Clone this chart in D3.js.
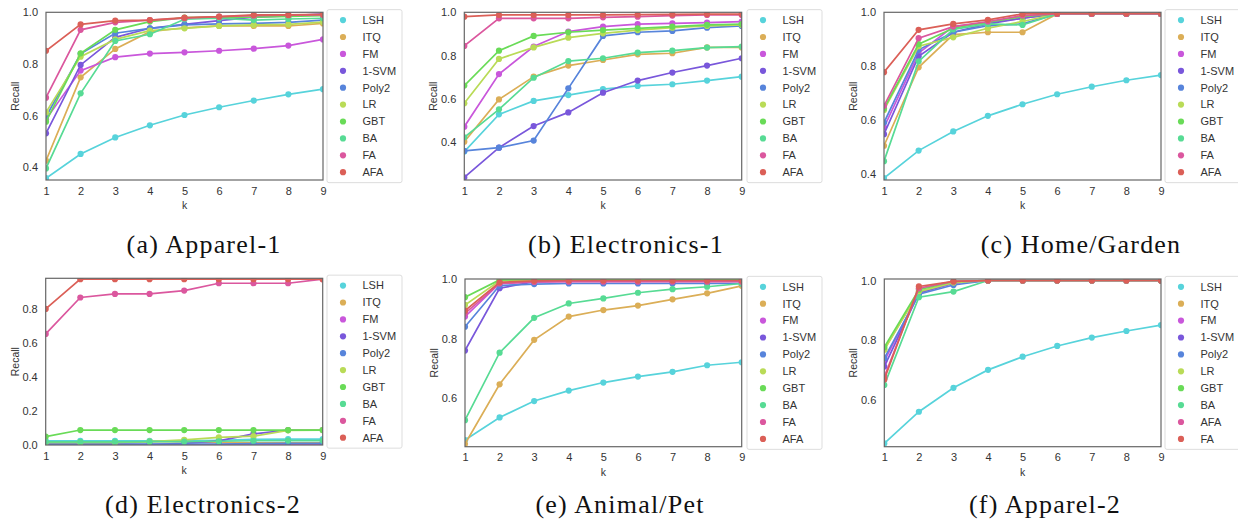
<!DOCTYPE html>
<html>
<head>
<meta charset="utf-8">
<script src="https://cdn.jsdelivr.net/npm/d3@7"></script>
<style>
	body { margin: 0; background: #fff; }
	text { font-family: "Liberation Sans", Arial, sans-serif; fill: #333; }
	.caption { font-family: "Liberation Serif", "Times New Roman", serif; fill: #111; }
</style>
</head>
<body>
<div id="chart-area"></div>
<script>
// recall@k for 10 methods on 6 datasets
const ks = [1, 2, 3, 4, 5, 6, 7, 8, 9]
const methods = ["LSH", "ITQ", "FM", "1-SVM", "Poly2", "LR", "GBT", "BA", "FA", "AFA"]
// panel (f) swaps the last two legend entries
const methodsF = ["LSH", "ITQ", "FM", "1-SVM", "Poly2", "LR", "GBT", "BA", "AFA", "FA"]
const palette = ["#57d3db", "#dbae57", "#c957db", "#7957db", "#5784db", "#b9db57", "#69db57", "#57db94", "#db579e", "#db5f57"]

// rows follow the legend order
const apparel1 = [
	[0.357, 0.451, 0.515, 0.562, 0.602, 0.632, 0.658, 0.682, 0.702],
	[0.425, 0.748, 0.858, 0.925, 0.940, 0.947, 0.947, 0.947, 0.957],
	[0.585, 0.774, 0.826, 0.840, 0.845, 0.851, 0.859, 0.871, 0.895],
	[0.531, 0.796, 0.903, 0.938, 0.953, 0.968, 0.981, 0.986, 0.994],
	[0.595, 0.839, 0.919, 0.938, 0.951, 0.955, 0.957, 0.961, 0.970],
	[0.612, 0.828, 0.895, 0.929, 0.938, 0.947, 0.951, 0.953, 0.962],
	[0.576, 0.841, 0.932, 0.964, 0.979, 0.981, 0.981, 0.984, 0.987],
	[0.395, 0.686, 0.889, 0.915, 0.973, 0.977, 0.970, 0.974, 0.977],
	[0.669, 0.932, 0.961, 0.970, 0.977, 0.983, 0.987, 0.989, 0.990],
	[0.851, 0.953, 0.968, 0.970, 0.979, 0.983, 0.990, 0.990, 0.992]
]
const electronics1 = [
	[0.357, 0.529, 0.591, 0.618, 0.645, 0.660, 0.668, 0.685, 0.703],
	[0.403, 0.598, 0.703, 0.754, 0.780, 0.806, 0.811, 0.838, 0.838],
	[0.472, 0.715, 0.842, 0.911, 0.934, 0.945, 0.949, 0.952, 0.957],
	[0.238, 0.375, 0.475, 0.538, 0.629, 0.685, 0.722, 0.754, 0.788],
	[0.360, 0.375, 0.408, 0.649, 0.891, 0.908, 0.914, 0.929, 0.937],
	[0.580, 0.785, 0.838, 0.883, 0.903, 0.918, 0.929, 0.937, 0.942],
	[0.662, 0.823, 0.891, 0.908, 0.918, 0.926, 0.934, 0.942, 0.946],
	[0.423, 0.552, 0.698, 0.775, 0.788, 0.814, 0.823, 0.837, 0.842],
	[0.845, 0.972, 0.972, 0.972, 0.977, 0.980, 0.985, 0.988, 0.988],
	[0.980, 0.988, 0.988, 0.988, 0.988, 0.989, 0.990, 0.992, 0.992]
]
const homeGarden = [
	[0.385, 0.487, 0.558, 0.616, 0.659, 0.696, 0.724, 0.748, 0.767],
	[0.505, 0.796, 0.917, 0.926, 0.926, 0.994, 0.994, 0.994, 0.994],
	[0.573, 0.849, 0.947, 0.962, 0.978, 0.994, 0.994, 0.994, 0.994],
	[0.548, 0.837, 0.926, 0.957, 0.978, 0.994, 0.994, 0.994, 0.994],
	[0.591, 0.861, 0.926, 0.950, 0.957, 0.994, 0.994, 0.994, 0.994],
	[0.638, 0.874, 0.907, 0.941, 0.966, 0.994, 0.994, 0.994, 0.994],
	[0.643, 0.882, 0.941, 0.963, 0.984, 0.994, 0.994, 0.994, 0.994],
	[0.448, 0.818, 0.937, 0.957, 0.953, 0.994, 0.994, 0.994, 0.994],
	[0.653, 0.904, 0.947, 0.966, 0.988, 0.994, 0.994, 0.994, 0.994],
	[0.778, 0.935, 0.957, 0.972, 0.994, 0.996, 0.996, 0.996, 0.996]
]
const electronics2 = [
	[0.024, 0.024, 0.024, 0.024, 0.024, 0.028, 0.033, 0.035, 0.035],
	[0.008, 0.008, 0.010, 0.020, 0.020, 0.015, 0.012, 0.012, 0.012],
	[0.002, 0.002, 0.002, 0.002, 0.002, 0.003, 0.005, 0.005, 0.005],
	[0.002, 0.002, 0.002, 0.002, 0.010, 0.024, 0.065, 0.088, 0.088],
	[0.006, 0.006, 0.006, 0.006, 0.006, 0.006, 0.008, 0.010, 0.010],
	[0.015, 0.015, 0.015, 0.020, 0.030, 0.045, 0.052, 0.086, 0.088],
	[0.049, 0.088, 0.088, 0.088, 0.088, 0.088, 0.088, 0.088, 0.088],
	[0.018, 0.018, 0.018, 0.020, 0.020, 0.022, 0.025, 0.026, 0.026],
	[0.653, 0.867, 0.888, 0.888, 0.908, 0.951, 0.951, 0.951, 0.975],
	[0.800, 0.975, 0.975, 0.975, 0.975, 0.975, 0.975, 0.975, 0.975]
]
const animalPet = [
	[0.460, 0.536, 0.591, 0.626, 0.653, 0.673, 0.689, 0.711, 0.721],
	[0.447, 0.647, 0.796, 0.874, 0.896, 0.911, 0.932, 0.952, 0.977],
	[0.874, 0.985, 0.990, 0.992, 0.992, 0.992, 0.992, 0.992, 0.992],
	[0.760, 0.969, 0.991, 0.994, 0.994, 0.994, 0.994, 0.994, 0.994],
	[0.840, 0.978, 0.983, 0.985, 0.985, 0.985, 0.985, 0.985, 0.985],
	[0.913, 0.994, 0.997, 0.997, 0.997, 0.997, 0.997, 0.997, 0.997],
	[0.939, 0.997, 1.000, 1.000, 1.000, 1.000, 1.000, 1.000, 1.000],
	[0.527, 0.753, 0.870, 0.918, 0.935, 0.954, 0.966, 0.974, 0.985],
	[0.885, 0.985, 0.990, 0.991, 0.991, 0.991, 0.991, 0.991, 0.991],
	[0.894, 0.989, 0.994, 0.995, 0.995, 0.995, 0.995, 0.995, 0.995]
]
const apparel2 = [
	[0.455, 0.561, 0.641, 0.701, 0.745, 0.781, 0.809, 0.831, 0.851],
	[0.770, 0.962, 0.995, 1.000, 1.000, 1.000, 1.000, 1.000, 1.000],
	[0.730, 0.958, 0.990, 1.000, 1.000, 1.000, 1.000, 1.000, 1.000],
	[0.712, 0.958, 0.993, 1.000, 1.000, 1.000, 1.000, 1.000, 1.000],
	[0.740, 0.954, 0.985, 1.000, 1.000, 1.000, 1.000, 1.000, 1.000],
	[0.768, 0.963, 0.993, 1.000, 1.000, 1.000, 1.000, 1.000, 1.000],
	[0.777, 0.969, 0.997, 1.000, 1.000, 1.000, 1.000, 1.000, 1.000],
	[0.650, 0.944, 0.963, 1.000, 1.000, 1.000, 1.000, 1.000, 1.000],
	[0.678, 0.974, 0.997, 1.000, 1.000, 1.000, 1.000, 1.000, 1.000],
	[0.669, 0.980, 0.997, 1.000, 1.000, 1.000, 1.000, 1.000, 1.000]
]

const captions = ["(a) Apparel-1", "(b) Electronics-1", "(c) Home/Garden", "(d) Electronics-2", "(e) Animal/Pet", "(f) Apparel-2"]

const svg = d3.select("#chart-area").append("svg")
	.attr("width", 1238)
	.attr("height", 529)

const panels = [
	{ id: "a", data: apparel1, labels: methods, box: [46, 323, 12.3, 180], yDomain: [0.35, 1.0], yTicks: [0.4, 0.6, 0.8, 1.0], legX: 327, cap: [204, 253] },
	{ id: "b", data: electronics1, labels: methods, box: [464.3, 741.7, 12.3, 180], yDomain: [0.226, 1.0], yTicks: [0.4, 0.6, 0.8, 1.0], legX: 747, cap: [626, 253] },
	{ id: "c", data: homeGarden, labels: methods, box: [884, 1161, 12.3, 180], yDomain: [0.378, 1.0], yTicks: [0.4, 0.6, 0.8, 1.0], legX: 1165, cap: [1081, 253] },
	{ id: "d", data: electronics2, labels: methods, box: [45.7, 322.7, 278.3, 445], yDomain: [0, 0.98], yTicks: [0, 0.2, 0.4, 0.6, 0.8], legX: 327, cap: [203, 513] },
	{ id: "e", data: animalPet, labels: methods, box: [465, 741.7, 279, 446.7], yDomain: [0.438, 1.0], yTicks: [0.6, 0.8, 1.0], legX: 747, cap: [620, 513] },
	{ id: "f", data: apparel2, labels: methodsF, box: [884.3, 1161, 279, 446.7], yDomain: [0.444, 1.005], yTicks: [0.6, 0.8, 1.0], legX: 1165, cap: [1045, 513] }
]

panels.forEach((p, i) => drawPanel(p, captions[i]))

function drawPanel(p, caption) {
	const [x0, x1, y0, y1] = p.box
	const x = d3.scaleLinear().domain([1, 9]).range([x0, x1])
	const y = d3.scaleLinear().domain(p.yDomain).range([y1, y0])

	svg.append("clipPath").attr("id", "clip-" + p.id)
		.append("rect")
		.attr("x", x0).attr("y", y0)
		.attr("width", x1 - x0).attr("height", y1 - y0)

	const g = svg.append("g")

	// axes: only labels, no tick marks (seaborn white style)
	const xAxis = g.append("g")
		.attr("transform", `translate(0, ${y1})`)
		.call(d3.axisBottom(x).tickValues(ks).tickSize(0).tickPadding(7).tickFormat(d3.format("d")))
	const yAxis = g.append("g")
		.attr("transform", `translate(${x0}, 0)`)
		.call(d3.axisLeft(y).tickValues(p.yTicks).tickSize(0).tickPadding(8).tickFormat(d3.format(".1f")))
	;[xAxis, yAxis].forEach(a => {
		a.select(".domain").remove()
		a.selectAll("text").attr("font-size", "11px").attr("fill", "#333")
			.attr("font-family", '"Liberation Sans", Arial, sans-serif')
	})

	g.append("text")
		.attr("x", (x0 + x1) / 2)
		.attr("y", y1 + 29)
		.attr("text-anchor", "middle")
		.attr("font-size", "10.5px")
		.text("k")

	g.append("text")
		.attr("transform", `translate(${x0 - 27}, ${(y0 + y1) / 2}) rotate(-90)`)
		.attr("text-anchor", "middle")
		.attr("font-size", "10.5px")
		.text("Recall")

	// lines + markers
	const plot = g.append("g").attr("clip-path", `url(#clip-${p.id})`)
	const line = d3.line().x((d, j) => x(ks[j])).y(d => y(d))
	p.data.forEach((vals, s) => {
		const sg = plot.append("g")
		sg.append("path")
			.datum(vals)
			.attr("d", line)
			.attr("fill", "none")
			.attr("stroke", palette[s])
			.attr("stroke-width", 1.7)
		sg.selectAll("circle")
			.data(vals)
			.enter().append("circle")
			.attr("cx", (d, j) => x(ks[j]))
			.attr("cy", d => y(d))
			.attr("r", 3.1)
			.attr("fill", palette[s])
	})

	// frame
	g.append("rect")
		.attr("x", x0).attr("y", y0)
		.attr("width", x1 - x0).attr("height", y1 - y0)
		.attr("fill", "none")
		.attr("stroke", "#666")
		.attr("stroke-width", 1.2)

	// legend, centred on the plot
	const mid = (y0 + y1) / 2
	const step = 16.9
	const leg = g.append("g")
	leg.append("rect")
		.attr("x", p.legX).attr("y", mid - 86.5)
		.attr("width", 75).attr("height", 173)
		.attr("rx", 2)
		.attr("fill", "#fff")
		.attr("stroke", "#ddd")
	p.labels.forEach((name, s) => {
		const cy = mid + (s - 4.5) * step
		leg.append("circle")
			.attr("cx", p.legX + 16).attr("cy", cy)
			.attr("r", 3.1)
			.attr("fill", palette[s])
		leg.append("text")
			.attr("x", p.legX + 35.5).attr("y", cy)
			.attr("dy", "0.35em")
			.attr("font-size", "11px")
			.text(name)
	})

	svg.append("text")
		.attr("class", "caption")
		.attr("x", p.cap[0]).attr("y", p.cap[1])
		.attr("text-anchor", "middle")
		.attr("font-size", "26px")
		.attr("letter-spacing", "1.2px")
		.text(caption)
}
</script>
</body>
</html>
